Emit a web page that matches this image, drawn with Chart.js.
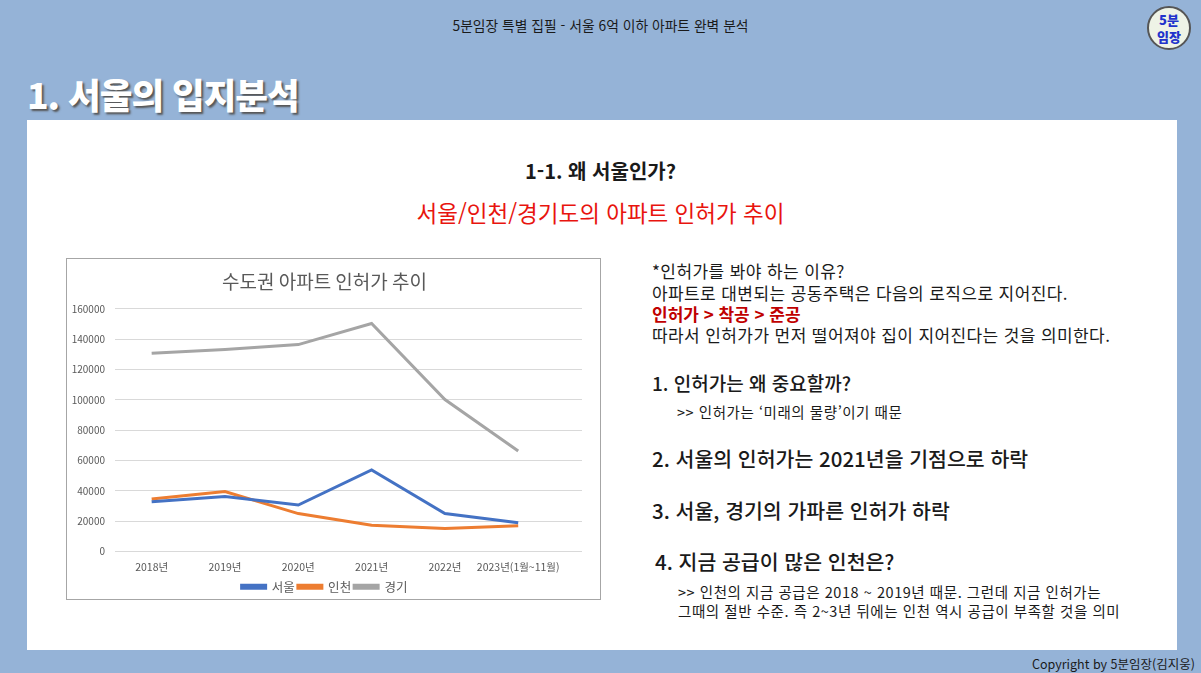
<!DOCTYPE html>
<html lang="ko">
<head>
<meta charset="utf-8">
<script src="https://cdn.jsdelivr.net/npm/chart.js@4.4.1/dist/chart.umd.min.js"></script>
<style>
  body { margin: 0; width: 1201px; height: 673px; background: #95b3d7; position: relative; overflow: hidden;
         font-family: "Noto Sans CJK KR", "Noto Sans", sans-serif; color: #1a1a1a; }
  .abs { position: absolute; white-space: nowrap; }
  #header { left: 0; width: 1201px; top: 15px; text-align: center; font-size: 13.8px; }
  #logo { left: 1147px; top: 6px; width: 44px; height: 44px; border-radius: 50%; background: #eef3e6;
          border: 2px solid #555; font-size: 13px; font-weight: 900; color: #2233cc; text-align: center; line-height: 17px; padding-top: 3px; box-sizing: border-box; }
  #title { left: 27px; top: 68px; font-size: 35.5px; font-weight: 900; color: #fff; letter-spacing: -1px;
           text-shadow: 2px 2px 2px #555; }
  #panel { left: 27px; top: 120px; width: 1150px; height: 530px; background: #fff; }
  #h2 { left: 0; width: 1201px; top: 156px; text-align: center; font-size: 20px; font-weight: 700; }
  #sub { left: 0; width: 1201px; top: 196px; text-align: center; font-size: 22.5px; color: #e8140e; }
  #chartBox { left: 66px; top: 258px; width: 533px; height: 340px; border: 1px solid #a6a6a6; background: #fff; }
  .p16 { left: 652px; font-size: 17px; letter-spacing: 0.4px; }
  .red { color: #c00000; font-weight: 700; letter-spacing: 0; }
  .big { left: 652px; font-size: 20.5px; font-weight: 500; }
  .small { font-size: 14.5px; letter-spacing: 0.55px; }
  #copy { left: 1032px; top: 654px; font-size: 12.5px; }
</style>
</head>
<body>
<div id="header" class="abs">5분임장 특별 집필 - 서울 6억 이하 아파트 완벽 분석</div>
<div id="logo" class="abs">5분<br>임장</div>
<div id="title" class="abs">1. 서울의 입지분석</div>
<div id="panel" class="abs"></div>
<div id="h2" class="abs">1-1. 왜 서울인가?</div>
<div id="sub" class="abs">서울/인천/경기도의 아파트 인허가 추이</div>

<div id="chartBox" class="abs"><canvas id="chart1" width="533" height="340"></canvas></div>

<div class="abs p16" style="top:258px">*인허가를 봐야 하는 이유?</div>
<div class="abs p16" style="top:280px">아파트로 대변되는 공동주택은 다음의 로직으로 지어진다.</div>
<div class="abs p16 red" style="top:301px">인허가 &gt; 착공 &gt; 준공</div>
<div class="abs p16" style="top:322px">따라서 인허가가 먼저 떨어져야 집이 지어진다는 것을 의미한다.</div>

<div class="abs big" style="top:369px;font-size:19px">1. 인허가는 왜 중요할까?</div>
<div class="abs small" style="left:677px;top:401px">&gt;&gt; 인허가는 ‘미래의 물량’이기 때문</div>
<div class="abs big" style="top:443px">2. 서울의 인허가는 2021년을 기점으로 하락</div>
<div class="abs big" style="top:495px">3. 서울, 경기의 가파른 인허가 하락</div>
<div class="abs big" style="left:655px;top:546px">4. 지금 공급이 많은 인천은?</div>
<div class="abs small" style="left:678px;top:581px">&gt;&gt; 인천의 지금 공급은 2018 ~ 2019년 때문. 그런데 지금 인허가는</div>
<div class="abs small" style="left:678px;top:600px">그때의 절반 수준. 즉 2~3년 뒤에는 인천 역시 공급이 부족할 것을 의미</div>

<div id="copy" class="abs">Copyright by 5분임장(김지웅)</div>

<script>
const chart1 = document.querySelector('#chart1');

const years = ['2018년', '2019년', '2020년', '2021년', '2022년', '2023년(1월~11월)'];
const seoul = [32800, 36200, 30600, 53800, 25000, 18900];
const incheon = [34600, 39500, 25000, 17300, 15100, 16900];
const gyeonggi = [130700, 133200, 136400, 150300, 100200, 66300];
const yTicks = [0, 20000, 40000, 60000, 80000, 100000, 120000, 140000, 160000];

const tickColor = '#595959';

// points by year index, so the x axis can leave room on the right like excel
const toPoints = (arr) => arr.map((v, i) => ({ x: i, y: v }));

const data = {
    datasets: [
        { label: '서울', data: toPoints(seoul), borderColor: '#4472c4', backgroundColor: '#4472c4' },
        { label: '인천', data: toPoints(incheon), borderColor: '#ed7d31', backgroundColor: '#ed7d31' },
        { label: '경기', data: toPoints(gyeonggi), borderColor: '#a5a5a5', backgroundColor: '#a5a5a5' },
    ]
};

const config = {
    type: 'line',
    data: data,
    options: {
        responsive: false,
        animation: false,
        layout: { padding: { left: 0, right: 18, top: 0, bottom: -4 } },
        elements: {
            line: { borderWidth: 3, tension: 0 },
            point: { radius: 0 }
        },
        scales: {
            x: {
                type: 'linear',
                min: -0.5,
                max: 5.87,
                grid: { display: false, drawTicks: false },
                border: { display: false },
                afterBuildTicks: (s) => { s.ticks = years.map((y, i) => ({ value: i })); },
                ticks: {
                    color: tickColor,
                    font: { family: 'Noto Sans CJK KR', size: 10.5 },
                    padding: 9,
                    maxRotation: 0,
                    autoSkip: false,
                    callback: (v) => years[v]
                },
                afterFit: (s) => { s.height = 26; }
            },
            y: {
                min: 0,
                max: 160000,
                grid: { color: '#d9d9d9', drawTicks: false },
                border: { display: false },
                afterBuildTicks: (s) => { s.ticks = yTicks.map((v) => ({ value: v })); },
                ticks: {
                    color: tickColor,
                    font: { family: 'Noto Sans CJK KR', size: 10 },
                    padding: 10,
                    callback: (v) => String(v)
                },
                afterFit: (s) => { s.width = 48; }
            }
        },
        plugins: {
            title: {
                display: true,
                text: '수도권 아파트 인허가 추이',
                color: tickColor,
                font: { family: 'Noto Sans CJK KR', size: 19, weight: 'normal' },
                padding: { top: 11, bottom: 16 }
            },
            legend: {
                position: 'bottom',
                labels: {
                    color: tickColor,
                    font: { family: 'Noto Sans CJK KR', size: 12.5 },
                    boxWidth: 24,
                    boxHeight: 3,
                    padding: 3
                }
            },
            tooltip: { enabled: false }
        }
    }
};

new Chart(chart1, config);
</script>
</body>
</html>
